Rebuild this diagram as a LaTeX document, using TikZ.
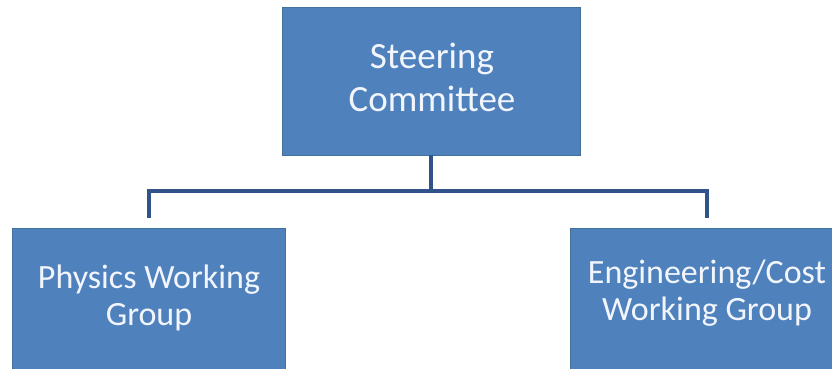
\documentclass[tikz,border=0pt]{standalone}
\usepackage{fontspec}
\setmainfont{Carlito}
\definecolor{boxfill}{HTML}{4F81BD}
\definecolor{boxline}{HTML}{41719C}
\definecolor{conncol}{HTML}{30548A}
\definecolor{txtcol}{HTML}{F2F6FC}
\begin{document}
\begin{tikzpicture}[x=1pt,y=-1pt,
  orgbox/.style={draw=boxline,line width=0.8pt,fill=boxfill,rectangle,inner sep=0pt,outer sep=0pt},
  toptext/.style={text=txtcol,font=\fontsize{37}{42}\selectfont,anchor=base,inner sep=0pt},
  lowtext/.style={text=txtcol,font=\fontsize{34}{37}\selectfont,anchor=base,inner sep=0pt},
  conn/.style={draw=conncol,line width=4pt}]
\useasboundingbox (0,0) rectangle (832,369);
\clip (0,0) rectangle (832,369);
\node[orgbox,minimum width=298pt,minimum height=148pt] (top) at (431,81) {};
\node[orgbox,minimum width=273pt,minimum height=170pt] (left) at (148.5,313) {};
\node[orgbox,minimum width=274pt,minimum height=170pt] (right) at (707,313) {};
\node[toptext] (t1) at (432,69) {Steering};
\node[toptext] (t2) at (432,111) {Committee};
\node[lowtext] (l1) at (149,288) {Physics Working};
\node[lowtext] (l2) at (149,325) {Group};
\node[lowtext] (r1) at (707,283) {Engineering/Cost};
\node[lowtext] (r2) at (707,320) {Working Group};
\coordinate (bus) at (431,191);
\draw[conn] (top.south) -- (bus);
\draw[conn] (bus) -| ([yshift=10pt]left.north);
\draw[conn] (bus) -| ([yshift=10pt]right.north);
\end{tikzpicture}
\end{document}
